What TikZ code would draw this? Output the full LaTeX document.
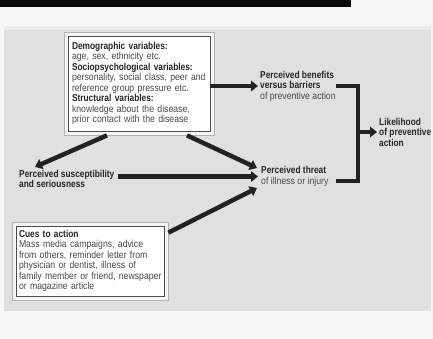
\documentclass[tikz,border=0pt]{standalone}
\usepackage{fontspec}
\setmainfont{Liberation Sans}[FakeStretch=0.87, BoldFeatures={FakeStretch=0.835}]
\usetikzlibrary{arrows.meta,calc}
\definecolor{bg}{HTML}{F6F6F6}
\definecolor{panel}{HTML}{E0E0E0}
\definecolor{panelhi}{HTML}{EAEAEA}
\definecolor{ink}{HTML}{222222}
\definecolor{txt}{HTML}{4A4A4A}
\definecolor{hdc}{HTML}{262626}
\newcommand\hd[1]{\textcolor{hdc}{\textbf{#1}}}
\begin{document}
\begin{tikzpicture}[x=1pt,y=-1pt,font=\fontsize{10}{10.5}\selectfont]
\tikzset{
  frame/.style={draw=black!30, fill=black!4, line width=0.7pt, inner sep=0pt},
  box/.style={draw=black!70, fill=white, line width=0.8pt, align=left, text=txt, inner ysep=2pt},
  lbl/.style={align=left, inner sep=0pt, anchor=west, text=txt},
  arr/.style={line width=4.5pt, draw=ink, -{Triangle[length=7pt,width=10.5pt]}},
  bar/.style={line width=4.5pt, draw=ink},
}
% background
\fill[bg] (0,0) rectangle (433,338);
\useasboundingbox (0,0) rectangle (433,338);
\fill[black!96] (0,0) rectangle (351,7);
\fill[panel] (4,26) rectangle (431,311);
\fill[panelhi] (4,26) rectangle (431,30);
% boxes
\node[frame, minimum width=150pt, minimum height=103pt] (demoframe) at (139,83.5) {};
\node[box, minimum width=142pt, minimum height=95pt, text width=134pt, inner xsep=4pt] (demo) at (139,83.5)
 {\hd{Demographic variables:}\\
  age, sex, ethnicity etc.\\
  \hd{Sociopsychological variables:}\\
  \mbox{personality, social class, peer and}\\
  reference group pressure etc.\\
  \hd{Structural variables:}\\
  knowledge about the disease,\\
  prior contact with the disease};
\node[frame, minimum width=156pt, minimum height=78pt] (cuesframe) at (90,261) {};
\node[box, minimum width=148pt, minimum height=70pt, text width=142pt, inner xsep=3pt] (cues) at (90,261)
 {\hd{Cues to action}\\
  \mbox{Mass media campaigns, advice}\\
  \mbox{from others, reminder letter from}\\
  \mbox{physician or dentist, illness of}\\
  \mbox{family member or friend, newspaper}\\
  or magazine article};
% labels
\node[lbl] (benefits) at (260,86) {\hd{Perceived benefits}\\ \hd{versus barriers}\\ of preventive action};
\node[lbl] (threat) at (261,176.5) {\hd{Perceived threat}\\ of illness or injury};
\node[lbl] (suscept) at (19,179) {\hd{Perceived susceptibility}\\ \hd{and seriousness}};
\node[lbl] (likely) at (379,132) {\hd{Likelihood}\\ \hd{of preventive}\\ \hd{action}};
% connectors
\draw[arr] (demo.east |- benefits.west) -- ($(benefits.west)+(-2,0)$);
\draw[arr] ($(demoframe.south)+(-32,0)$) -- ($(suscept.north west)+(16,-3)$);
\draw[arr] ($(demoframe.south)+(48,0)$) -- ($(threat.west)+(-4,-8.5)$);
\draw[arr] ($(suscept.east |- threat.west)+(3,0)$) -- ($(threat.west)+(-3,0)$);
\draw[arr] ($(cuesframe.north east)+(0,11)$) -- ($(threat.west)+(-4,11.5)$);
\coordinate (btop) at (358,86);
\coordinate (bbot) at (358,181);
\draw[bar] (336,86) -- (btop) -- (bbot) -- (336,181);
\draw[arr] (btop |- likely.west) -- ($(likely.west)+(-2,0)$);
\end{tikzpicture}
\end{document}
